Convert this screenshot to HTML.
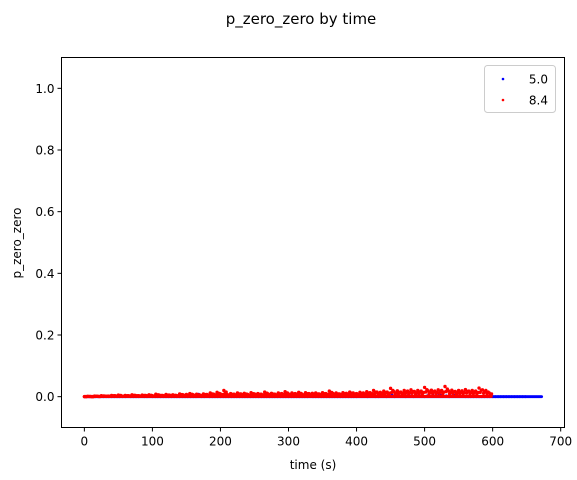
<!DOCTYPE html>
<html><head><meta charset="utf-8"><style>
html,body{margin:0;padding:0;background:#fff;}
svg{display:block;font-family:"DejaVu Sans","Liberation Sans",sans-serif;}
</style></head><body>
<svg id="chart" width="577" height="480" viewBox="0 0 577 480">
<text x="301" y="24" font-size="15" text-anchor="middle" fill="#000">p_zero_zero by time</text>
<g id="plot"></g>
<g id="axes"></g>
<text x="313" y="469" font-size="12" text-anchor="middle">time (s)</text>
<text transform="translate(21,243) rotate(-90)" font-size="12" text-anchor="middle">p_zero_zero</text>
<g>
<rect x="484.5" y="65.5" width="71" height="47" rx="3" fill="#fff" stroke="#ccc"/>
<g><circle cx="503" cy="79" r="1.3" fill="#0000ff"/><text x="548" y="83.5" font-size="12" text-anchor="end">5.0</text></g>
<g><circle cx="503" cy="100" r="1.3" fill="#ff0000"/><text x="548" y="104.5" font-size="12" text-anchor="end">8.4</text></g>
</g>
</svg>
<script>
const xTicks=[0,100,200,300,400,500,600,700];
const yTicks=[0.0,0.2,0.4,0.6,0.8,1.0];
const yTickLabels=["0.0","0.2","0.4","0.6","0.8","1.0"];
const blueStep=4;
const blueValues=[0,0,0,0,0,0,0,0,0,0,0,0,0,0,0,0,0.002,0,0,0,0,0.003,0,0,0.001,0,0,0,0,0,0,0,0,0,0,0,0,0,0,0,0,0,0.008,0,0,0.002,0,0,0,0,0,0,0,0,0,0,0,0,0,0,0,0,0,0,0,0,0,0,0,0,0,0,0,0,0,0,0,0,0,0,0,0,0,0.007,0,0,0,0,0,0,0,0,0,0,0,0,0,0,0,0,0,0.003,0.002,0.001,0,0.002,0.003,0,0,0.004,0.002,0,0.003,0.005,0,0.002,0.001,0.003,0,0.004,0.002,0,0.003,0.002,0.004,0,0.003,0.001,0.005,0.002,0.003,0.004,0.002,0.003,0,0.002,0.004,0.003,0.001,0.002,0,0,0,0,0,0,0,0,0,0,0,0,0,0,0,0,0,0,0,0,0,0,0];
const redStep=5;
const redValues=[0,0.001,0,0.002,0.001,0.003,0.002,0.002,0.004,0.003,0.005,0.002,0.004,0.003,0.006,0.004,0.003,0.005,0.004,0.006,0.003,0.008,0.005,0.004,0.007,0.005,0.006,0.004,0.009,0.006,0.007,0.01,0.006,0.008,0.005,0.009,0.007,0.012,0.008,0.014,0.009,0.02,0.007,0.01,0.008,0.012,0.009,0.011,0.007,0.013,0.009,0.01,0.008,0.015,0.009,0.011,0.008,0.012,0.01,0.016,0.009,0.012,0.01,0.014,0.008,0.013,0.01,0.011,0.012,0.009,0.013,0.01,0.018,0.011,0.012,0.009,0.013,0.011,0.015,0.012,0.01,0.014,0.012,0.016,0.013,0.02,0.015,0.014,0.018,0.015,0.027,0.016,0.019,0.015,0.02,0.018,0.022,0.017,0.02,0.018,0.03,0.019,0.021,0.018,0.022,0.02,0.033,0.019,0.021,0.017,0.02,0.019,0.023,0.018,0.02,0.018,0.028,0.022,0.02,0.012];
const L=61.5,R=564.5,T=57.5,B=427.5,XMIN=-33.6,XMAX=705.6,YMIN=-0.1,YMAX=1.1;
function sx(v){return L+(v-XMIN)/(XMAX-XMIN)*(R-L);}
function sy(v){return B-(v-YMIN)/(YMAX-YMIN)*(B-T);}
const NS="http://www.w3.org/2000/svg";
function mk(tag,attrs,parent){const e=document.createElementNS(NS,tag);for(const k in attrs)e.setAttribute(k,attrs[k]);parent.appendChild(e);return e;}
const plot=document.getElementById('plot'),axes=document.getElementById('axes');
for(let t=0;t<=672;t+=1){
 const c=mk('circle',{cx:sx(t),cy:sy(0),r:1.4,fill:'#0000ff'},plot);
 
 
}
blueValues.forEach((v,i)=>{
 const c=mk('circle',{cx:sx(i*blueStep),cy:sy(v),r:1.4,fill:'#0000ff'},plot);
 
 
});
for(let t=0;t<=598;t+=1){
 const c=mk('circle',{cx:sx(t),cy:sy(0.001),r:1.5,fill:'#ff0000'},plot);
 
 
}
redValues.forEach((v,i)=>{
 [[0,1],[1.7,0.5],[3.4,0.75]].forEach(([dx,f])=>{
  const c=mk('circle',{cx:sx(i*redStep+dx),cy:sy(v*f),r:1.7,fill:'#ff0000'},plot);
  
  
 });
});
const fr=mk('rect',{x:L,y:T,width:R-L,height:B-T,fill:'none',stroke:'#000','stroke-width':1},axes);


xTicks.forEach(v=>{
 const x=sx(v);
 const l=mk('line',{x1:x,x2:x,y1:B,y2:B+4,stroke:'#000'},axes);
 
 
 const t=mk('text',{x:x,y:B+18,'font-size':12,'text-anchor':'middle'},axes);
 t.textContent=v;
 
 
});
yTicks.forEach((v,i)=>{
 const y=sy(v);
 const l=mk('line',{x1:L-4,x2:L,y1:y,y2:y,stroke:'#000'},axes);
 
 
 const t=mk('text',{x:L-7,y:y+4.5,'font-size':12,'text-anchor':'end'},axes);
 t.textContent=yTickLabels[i];
 
 
});
</script>
</body></html>
